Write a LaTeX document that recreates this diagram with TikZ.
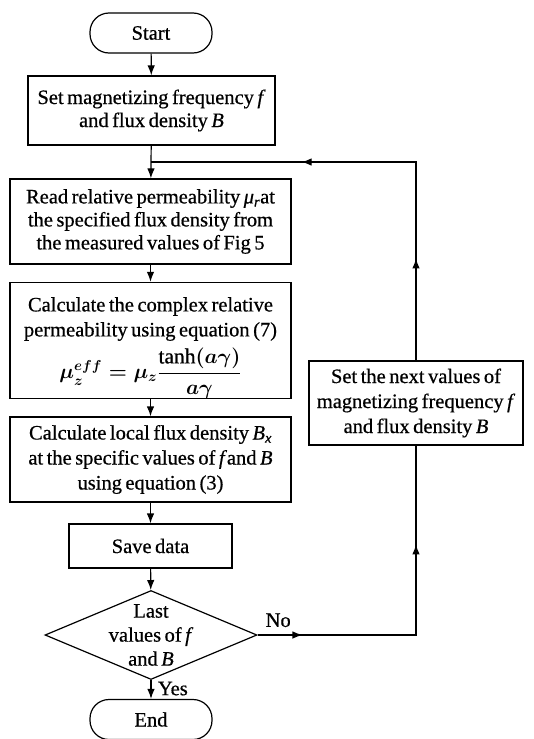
\documentclass[tikz,border=0pt]{standalone}
\usepackage{amsmath}
\usepackage{fontspec}
\setmainfont{Liberation Serif}[FakeBold=0.6]
\usepackage{tikz}
\usetikzlibrary{arrows.meta,shapes.geometric,decorations.markings}
\newcommand{\nodefont}{\fontsize{20.5}{23}\selectfont\spaceskip=3.5pt plus 1pt\relax}
\newcommand{\mueff}{\fontsize{21.5}{26}\selectfont\boldmath$\displaystyle\mu_z^{eff}=\mu_z\frac{\text{tanh}(a\gamma)}{a\gamma}$}
\newcommand{\vf}{\textit{f}}
\newcommand{\vB}{\textit{B}}

\begin{document}
\begin{tikzpicture}[x=1pt,y=-1pt,>={Latex[length=10pt,width=7.5pt]},
        every node/.style={font=\nodefont,align=center},
        box/.style={draw,line width=1.2pt,inner sep=0pt},
        term/.style={draw,line width=1.2pt,rounded corners=19pt,minimum width=122pt,minimum height=40pt},
        decision/.style={draw,diamond,line width=1.2pt,minimum width=212pt,minimum height=89pt,inner sep=0pt},
        line/.style={->,line width=1.2pt},
        midarrows/.style 2 args={line width=1.2pt,postaction={decorate},
            decoration={markings,mark=at position #1 with {\arrow{>}},mark=at position #2 with {\arrow{>}}}}
    ]
    \useasboundingbox (0,0) rectangle (533,739);
    \node[term] (start) at (151,33) {Start};
    \node[box,minimum width=247pt,minimum height=69pt] (set) at (151.5,110.5) {Set magnetizing frequency \vf\\and flux density \vB};
    \node[box,minimum width=281pt,minimum height=85pt] (read) at (150.5,221.5) {Read relative permeability \textit{μ}\textsubscript{\textit{r}}at\\the specified flux density from\\the measured values of Fig 5};
    \node[box,minimum width=281pt,minimum height=109pt] (calc) at (150.5,340.5) {\rule{0pt}{29pt}Calculate the complex relative\\[2pt]permeability using equation (7)\\[6pt]{\mueff}};
    \node[box,minimum width=281pt,minimum height=85pt] (local) at (150.5,459.5) {Calculate local flux density \textit{B}\textsubscript{\textit{x}}\\[2pt]at the specific values of \vf and \vB\\[2pt]using equation (3)};
    \node[box,minimum width=163pt,minimum height=44pt] (save) at (150.5,546) {Save data};
    \node[decision] (last) at (151,635) {};
    \node (lasttext) at (last) {Last\\[1pt]values of \vf\\[1pt]and \vB};
    \node[term] (end) at (151,719.5) {End};
    \node[box,minimum width=214pt,minimum height=84pt] (side) at (416,403) {Set the next values of\\[2pt]magnetizing frequency \vf\\[2pt]and flux density \vB};

    \coordinate (join) at (151,162);
    \coordinate (c1) at (side |- last);
    \coordinate (c2) at (side |- join);

    \draw[line] (start) -- (set);
    \draw[line] (set) -- (read);
    \draw[line] (read) -- (calc);
    \draw[line] (calc) -- (local);
    \draw[line] (local) -- (save);
    \draw[line] (save) -- (last);
    \draw[line] (last) -- node[right,pos=0.45,xshift=3pt] (yes) {Yes} (end);

    % loop back
    \draw[midarrows={0.129}{0.716}] (last.east) -- node[above=4pt,pos=0.13] (no) {No} (c1) -- (side.south);
    \draw[midarrows={0.22}{0.675}] (side.north) -- (c2) -- (join);
\end{tikzpicture}
\end{document}
